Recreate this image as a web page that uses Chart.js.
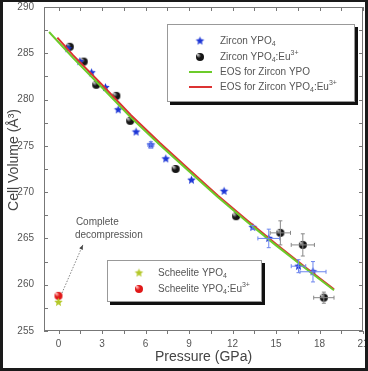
<!DOCTYPE html>
<html>
<head>
<meta charset="utf-8">
<script src="https://cdn.jsdelivr.net/npm/chart.js@4.4.0/dist/chart.umd.min.js"></script>
<style>
  body { margin: 0; background: #fff; }
  canvas { display: block; }
</style>
</head>
<body>
<canvas id="grafico" width="368" height="371"></canvas>
<script>
const ctx = document.getElementById('grafico').getContext('2d');

// Dados -------------------------------------------------------------------

// Zircon YPO4 (estrelas azuis)
const zirconP    = [0.65, 1.47, 2.28, 3.24, 4.12, 5.35, 6.37, 7.4, 9.17, 11.42, 13.4, 14.5, 16.55, 17.55]
const zirconV    = [285.5, 284.1, 282.9, 281.3, 278.9, 276.5, 275.1, 273.6, 271.3, 270.1, 266.2, 265.0, 262.0, 261.4]
const zirconErrP = [0, 0, 0, 0, 0, 0, 0.2, 0, 0, 0, 0, 0.75, 0.5, 0.9]
const zirconErrV = [0, 0, 0, 0, 0, 0, 0.35, 0, 0, 0, 0.2, 1.0, 0.7, 1.1]

// Zircon YPO4:Eu3+ (esferas pretas)
const euP    = [0.78, 1.74, 2.6, 3.99, 4.94, 8.08, 12.25, 15.3, 16.85, 18.3]
const euV    = [285.7, 284.1, 281.6, 280.4, 277.7, 272.5, 267.4, 265.6, 264.3, 258.6]
const euErrP = [0, 0, 0, 0, 0, 0, 0, 0.7, 0.8, 0.7]
const euErrV = [0, 0, 0, 0, 0, 0, 0, 1.3, 1.2, 0.6]

// Curvas EOS
const eosYpoP = [-0.65, 1, 3, 5, 7, 9, 11, 13, 15, 17, 19]
const eosYpoV = [287.3, 284.5, 281.3, 278.05, 275.1, 272.25, 269.45, 266.8, 264.25, 261.8, 259.4]
const eosEuP  = [-0.08, 1, 3, 5, 7, 9, 11, 13, 15, 17, 19]
const eosEuV  = [286.7, 284.8, 281.6, 278.3, 275.3, 272.45, 269.6, 266.95, 264.4, 261.9, 259.5]

// Scheelite (descompressão completa)
const scheeliteP   = [0]
const scheeliteV   = [258.1]
const scheeliteEuP = [0]
const scheeliteEuV = [258.8]

// Eixos
const xMin = -1, xMax = 21, xPasso = 1.5, xRotulo = 3
const yMin = 255, yMax = 290, yPasso = 2.5, yRotulo = 5

// Anotação "Complete decompression"
const setaDe   = [0.24, 259.1]
const setaPara = [1.68, 264.3]
const notaPos  = [1.2, 266.7]

// Marcadores ---------------------------------------------------------------

function CriaEstrela(cor, r) {
  const c = document.createElement('canvas');
  c.width = c.height = 2 * r + 2;
  const g = c.getContext('2d');
  g.beginPath();
  for (let i = 0; i < 10; i++) {
    const rr = i % 2 == 0 ? r : r * 0.45;
    const a = -Math.PI / 2 + i * Math.PI / 5;
    g.lineTo(r + 1 + rr * Math.cos(a), r + 1 + rr * Math.sin(a));
  }
  g.closePath();
  g.fillStyle = cor;
  g.fill();
  return c;
}

function CriaEsfera(cor, brilho, r) {
  const c = document.createElement('canvas');
  c.width = c.height = 2 * r + 2;
  const g = c.getContext('2d');
  const grad = g.createRadialGradient(r - r * 0.3, r - r * 0.3, 0.5, r + 1, r + 1, r);
  grad.addColorStop(0, brilho);
  grad.addColorStop(0.5, cor);
  grad.addColorStop(1, cor);
  g.beginPath();
  g.arc(r + 1, r + 1, r, 0, Math.PI * 2);
  g.fillStyle = grad;
  g.fill();
  return c;
}

const estrelaAzul = CriaEstrela('#1d36d6', 4.5);
const esferaPreta = CriaEsfera('#151515', '#bbbbbb', 4);
const estrelaVerde = CriaEstrela('#b4c82a', 4.5);
const esferaVermelha = CriaEsfera('#e01818', '#ffb0b0', 4);

function pontos(xs, ys) {
  return xs.map((x, i) => ({ x: x, y: ys[i] }));
}

// Plugins ------------------------------------------------------------------

const barrasErro = {
  id: 'barrasErro',
  afterDatasetsDraw(chart) {
    const { x, y } = chart.scales;
    const c = chart.ctx;
    chart.data.datasets.forEach(ds => {
      if (!ds.errP) return;
      c.save();
      c.strokeStyle = ds.corErro;
      c.lineWidth = 1;
      ds.data.forEach((p, i) => {
        const px = x.getPixelForValue(p.x), py = y.getPixelForValue(p.y);
        const ex = ds.errP[i], ey = ds.errV[i];
        c.beginPath();
        if (ex > 0) {
          const a = x.getPixelForValue(p.x - ex), b = x.getPixelForValue(p.x + ex);
          c.moveTo(a, py); c.lineTo(b, py);
          c.moveTo(a, py - 2); c.lineTo(a, py + 2);
          c.moveTo(b, py - 2); c.lineTo(b, py + 2);
        }
        if (ey > 0) {
          const a = y.getPixelForValue(p.y - ey), b = y.getPixelForValue(p.y + ey);
          c.moveTo(px, a); c.lineTo(px, b);
          c.moveTo(px - 2, a); c.lineTo(px + 2, a);
          c.moveTo(px - 2, b); c.lineTo(px + 2, b);
        }
        c.stroke();
      });
      c.restore();
    });
  }
};

function TextoRico(c, partes, x, y) {
  partes.forEach(p => {
    let dy = 0;
    if (p.sub) { c.font = '7px "Liberation Sans", Arial'; dy = 3; }
    else if (p.sup) { c.font = '7px "Liberation Sans", Arial'; dy = -4; }
    else c.font = '10px "Liberation Sans", Arial';
    c.fillText(p.t, x, y + dy);
    x += c.measureText(p.t).width;
  });
}

function Caixa(c, x0, y0, x1, y1) {
  c.fillStyle = '#111';
  c.fillRect(x0 + 3, y0 + 3, x1 - x0, y1 - y0);
  c.fillStyle = '#fff';
  c.fillRect(x0, y0, x1 - x0, y1 - y0);
  c.strokeStyle = '#999';
  c.lineWidth = 1;
  c.strokeRect(x0 + 0.5, y0 + 0.5, x1 - x0 - 1, y1 - y0 - 1);
}

const enfeites = {
  id: 'enfeites',
  beforeDatasetsDraw(chart) {
    const { x, y } = chart.scales;
    const c = chart.ctx;
    const L = x.getPixelForValue(xMin), R = x.getPixelForValue(xMax);
    const T = y.getPixelForValue(yMax), B = y.getPixelForValue(yMin);
    c.save();
    // moldura + marcas dos eixos
    c.strokeStyle = '#777';
    c.lineWidth = 1;
    c.strokeRect(L + 0.5, T + 0.5, R - L - 1, B - T - 1);
    c.beginPath();
    x.ticks.forEach(t => {
      const px = Math.round(x.getPixelForValue(t.value)) + 0.5;
      c.moveTo(px, B); c.lineTo(px, B + 3);
      c.moveTo(px, T); c.lineTo(px, T + 4);
    });
    y.ticks.forEach(t => {
      const py = Math.round(y.getPixelForValue(t.value)) + 0.5;
      c.moveTo(L, py); c.lineTo(L + 4, py);
      c.moveTo(R, py); c.lineTo(R - 4, py);
    });
    c.stroke();
    // título do eixo Y
    c.translate(14, 160);
    c.rotate(-Math.PI / 2);
    c.fillStyle = '#444';
    c.textAlign = 'center';
    c.textBaseline = 'middle';
    c.font = '14px "Liberation Sans", Arial';
    c.fillText('Cell Volume (Å³)', 0, 0);
    c.restore();
  },
  afterDraw(chart) {
    const { x, y } = chart.scales;
    const c = chart.ctx;
    c.save();
    // legenda principal
    Caixa(c, 167, 24, 355, 102);
    c.textBaseline = 'middle';
    c.drawImage(estrelaAzul, 200 - 5.5, 41 - 5.5);
    c.drawImage(esferaPreta, 200 - 5, 57 - 5);
    c.fillStyle = '#555';
    TextoRico(c, [{ t: 'Zircon YPO' }, { t: '4', sub: true }], 220, 41);
    TextoRico(c, [{ t: 'Zircon YPO' }, { t: '4', sub: true }, { t: ':Eu' }, { t: '3+', sup: true }], 220, 57);
    TextoRico(c, [{ t: 'EOS for Zircon YPO' }], 220, 72);
    TextoRico(c, [{ t: 'EOS for Zircon YPO' }, { t: '4', sub: true }, { t: ':Eu' }, { t: '3+', sup: true }], 220, 87);
    c.lineWidth = 2;
    c.strokeStyle = '#6ccb2a';
    c.beginPath(); c.moveTo(189, 72); c.lineTo(212, 72); c.stroke();
    c.strokeStyle = '#dc3232';
    c.beginPath(); c.moveTo(189, 87); c.lineTo(212, 87); c.stroke();

    // legenda scheelite
    Caixa(c, 107, 260, 262, 302);
    c.drawImage(estrelaVerde, 139 - 5.5, 273 - 5.5);
    c.drawImage(esferaVermelha, 139 - 5, 289 - 5);
    c.fillStyle = '#555';
    TextoRico(c, [{ t: 'Scheelite YPO' }, { t: '4', sub: true }], 158, 273);
    TextoRico(c, [{ t: 'Scheelite YPO' }, { t: '4', sub: true }, { t: ':Eu' }, { t: '3+', sup: true }], 158, 289);

    // seta pontilhada + nota
    const x0 = x.getPixelForValue(setaDe[0]), y0 = y.getPixelForValue(setaDe[1]);
    const x1 = x.getPixelForValue(setaPara[0]), y1 = y.getPixelForValue(setaPara[1]);
    c.strokeStyle = '#666';
    c.lineWidth = 0.8;
    c.setLineDash([1.5, 1.5]);
    c.beginPath(); c.moveTo(x0, y0); c.lineTo(x1, y1); c.stroke();
    c.setLineDash([]);
    const ang = Math.atan2(y1 - y0, x1 - x0);
    c.fillStyle = '#444';
    c.beginPath();
    c.moveTo(x1, y1);
    c.lineTo(x1 - 5 * Math.cos(ang - 0.4), y1 - 5 * Math.sin(ang - 0.4));
    c.lineTo(x1 - 5 * Math.cos(ang + 0.4), y1 - 5 * Math.sin(ang + 0.4));
    c.closePath(); c.fill();
    c.fillStyle = '#555';
    c.font = '10px "Liberation Sans", Arial';
    const nx = x.getPixelForValue(notaPos[0]), ny = y.getPixelForValue(notaPos[1]);
    c.fillText('Complete', nx, ny);
    c.fillText('decompression', nx - 1, ny + 13);

    // borda escura da imagem
    c.fillStyle = '#1a1a1a';
    c.fillRect(0, 0, 368, 2);
    c.fillRect(0, 0, 3, 371);
    c.fillRect(365, 0, 3, 371);
    c.fillRect(0, 368, 368, 3);
    c.restore();
  }
};

// Gráfico ------------------------------------------------------------------

const data = {
  datasets: [
    {
      type: 'line', label: 'EOS for Zircon YPO', data: pontos(eosYpoP, eosYpoV),
      borderColor: '#6ccb2a', borderWidth: 2, pointRadius: 0, tension: 0
    },
    {
      type: 'line', label: 'EOS for Zircon YPO4:Eu3+', data: pontos(eosEuP, eosEuV),
      borderColor: '#dc3232', borderWidth: 2, pointRadius: 0, tension: 0
    },
    {
      label: 'Zircon YPO4', data: pontos(zirconP, zirconV), pointStyle: estrelaAzul,
      errP: zirconErrP, errV: zirconErrV, corErro: '#6d86ee'
    },
    {
      label: 'Zircon YPO4:Eu3+', data: pontos(euP, euV), pointStyle: esferaPreta,
      errP: euErrP, errV: euErrV, corErro: '#888'
    },
    { label: 'Scheelite YPO4', data: pontos(scheeliteP, scheeliteV), pointStyle: estrelaVerde },
    { label: 'Scheelite YPO4:Eu3+', data: pontos(scheeliteEuP, scheeliteEuV), pointStyle: esferaVermelha }
  ]
};

const fonteTick = { family: '"Liberation Sans", Arial', size: 10 };
const fonteTitulo = { family: '"Liberation Sans", Arial', size: 14 };

const config = {
  type: 'scatter',
  data,
  options: {
    responsive: false,
    animation: false,
    layout: { padding: { top: 7, right: 4, left: 0, bottom: 3 } },
    scales: {
      x: {
        type: 'linear', min: xMin, max: xMax,
        grid: { display: false, drawTicks: false },
        border: { display: false },
        ticks: {
          stepSize: xPasso, includeBounds: false, color: '#555', font: fonteTick, padding: 7, maxRotation: 0, autoSkip: false,
          callback: v => v % xRotulo == 0 ? v : ''
        },
        title: { display: true, text: 'Pressure (GPa)', color: '#444', font: fonteTitulo, padding: { top: 0, bottom: 2 } },
        afterFit: s => { s.height = 37; s.paddingLeft = 0; s.paddingRight = 0; }
      },
      y: {
        type: 'linear', min: yMin, max: yMax,
        grid: { display: false, drawTicks: false },
        border: { display: false },
        ticks: {
          stepSize: yPasso, includeBounds: false, color: '#555', font: fonteTick, padding: 10, autoSkip: false,
          callback: v => v % yRotulo == 0 ? v : ''
        },
        afterFit: s => { s.width = 44; s.paddingTop = 0; s.paddingBottom = 0; }
      }
    },
    plugins: {
      legend: false,
      tooltip: { enabled: false }
    }
  },
  plugins: [enfeites, barrasErro]
};

const grafico = new Chart(ctx, config);
</script>
</body>
</html>
